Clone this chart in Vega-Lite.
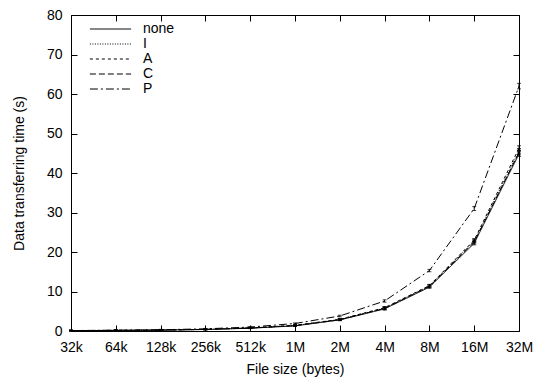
{
  "$schema": "https://vega.github.io/schema/vega-lite/v6.json",
  "width": 448,
  "height": 316,
  "autosize": {"type": "none"},
  "padding": {"left": 71, "top": 15, "right": 18, "bottom": 47},
  "background": "white",
  "config": {
    "view": {"stroke": "black", "strokeWidth": 1},
    "font": "Liberation Sans",
    "axis": {
      "domainColor": "black", "tickColor": "black", "labelColor": "black", "titleColor": "black",
      "labelFont": "Liberation Sans", "titleFont": "Liberation Sans",
      "labelFontSize": 14, "titleFontSize": 14, "titleFontWeight": "normal",
      "grid": false, "tickSize": -6, "labelPadding": 15
    }
  },
  "data": {"values": [
    {"size": "32k", "series": "none", "t": 0.1, "lo": 0.0, "hi": 0.2},
    {"size": "64k", "series": "none", "t": 0.15, "lo": 0.05, "hi": 0.25},
    {"size": "128k", "series": "none", "t": 0.22, "lo": 0.12, "hi": 0.32},
    {"size": "256k", "series": "none", "t": 0.38, "lo": 0.28, "hi": 0.48},
    {"size": "512k", "series": "none", "t": 0.7, "lo": 0.6, "hi": 0.8},
    {"size": "1M", "series": "none", "t": 1.3, "lo": 1.15, "hi": 1.45},
    {"size": "2M", "series": "none", "t": 2.8, "lo": 2.6, "hi": 3.0},
    {"size": "4M", "series": "none", "t": 5.6, "lo": 5.3, "hi": 5.9},
    {"size": "8M", "series": "none", "t": 11.1, "lo": 10.8, "hi": 11.4},
    {"size": "16M", "series": "none", "t": 22.2, "lo": 21.8, "hi": 22.6},
    {"size": "32M", "series": "none", "t": 44.8, "lo": 44.2, "hi": 45.4},
    {"size": "32k", "series": "I", "t": 0.1, "lo": 0.0, "hi": 0.2},
    {"size": "64k", "series": "I", "t": 0.15, "lo": 0.05, "hi": 0.25},
    {"size": "128k", "series": "I", "t": 0.24, "lo": 0.14, "hi": 0.34},
    {"size": "256k", "series": "I", "t": 0.4, "lo": 0.3, "hi": 0.5},
    {"size": "512k", "series": "I", "t": 0.75, "lo": 0.65, "hi": 0.85},
    {"size": "1M", "series": "I", "t": 1.4, "lo": 1.25, "hi": 1.55},
    {"size": "2M", "series": "I", "t": 2.9, "lo": 2.7, "hi": 3.1},
    {"size": "4M", "series": "I", "t": 5.8, "lo": 5.5, "hi": 6.1},
    {"size": "8M", "series": "I", "t": 11.4, "lo": 11.1, "hi": 11.7},
    {"size": "16M", "series": "I", "t": 22.8, "lo": 22.4, "hi": 23.2},
    {"size": "32M", "series": "I", "t": 45.6, "lo": 45.0, "hi": 46.2},
    {"size": "32k", "series": "A", "t": 0.1, "lo": 0.0, "hi": 0.2},
    {"size": "64k", "series": "A", "t": 0.16, "lo": 0.06, "hi": 0.26},
    {"size": "128k", "series": "A", "t": 0.25, "lo": 0.15, "hi": 0.35},
    {"size": "256k", "series": "A", "t": 0.42, "lo": 0.32, "hi": 0.52},
    {"size": "512k", "series": "A", "t": 0.78, "lo": 0.68, "hi": 0.88},
    {"size": "1M", "series": "A", "t": 1.45, "lo": 1.3, "hi": 1.6},
    {"size": "2M", "series": "A", "t": 2.95, "lo": 2.75, "hi": 3.15},
    {"size": "4M", "series": "A", "t": 5.9, "lo": 5.6, "hi": 6.2},
    {"size": "8M", "series": "A", "t": 11.5, "lo": 11.2, "hi": 11.8},
    {"size": "16M", "series": "A", "t": 23.0, "lo": 22.6, "hi": 23.4},
    {"size": "32M", "series": "A", "t": 46.3, "lo": 45.7, "hi": 46.9},
    {"size": "32k", "series": "C", "t": 0.1, "lo": 0.0, "hi": 0.2},
    {"size": "64k", "series": "C", "t": 0.15, "lo": 0.05, "hi": 0.25},
    {"size": "128k", "series": "C", "t": 0.23, "lo": 0.13, "hi": 0.33},
    {"size": "256k", "series": "C", "t": 0.4, "lo": 0.3, "hi": 0.5},
    {"size": "512k", "series": "C", "t": 0.74, "lo": 0.64, "hi": 0.84},
    {"size": "1M", "series": "C", "t": 1.35, "lo": 1.2, "hi": 1.5},
    {"size": "2M", "series": "C", "t": 2.85, "lo": 2.65, "hi": 3.05},
    {"size": "4M", "series": "C", "t": 5.7, "lo": 5.4, "hi": 6.0},
    {"size": "8M", "series": "C", "t": 11.3, "lo": 11.0, "hi": 11.6},
    {"size": "16M", "series": "C", "t": 22.5, "lo": 22.1, "hi": 22.9},
    {"size": "32M", "series": "C", "t": 45.2, "lo": 44.6, "hi": 45.8},
    {"size": "32k", "series": "P", "t": 0.12, "lo": 0.02, "hi": 0.22},
    {"size": "64k", "series": "P", "t": 0.2, "lo": 0.1, "hi": 0.3},
    {"size": "128k", "series": "P", "t": 0.32, "lo": 0.22, "hi": 0.42},
    {"size": "256k", "series": "P", "t": 0.55, "lo": 0.45, "hi": 0.65},
    {"size": "512k", "series": "P", "t": 1.0, "lo": 0.9, "hi": 1.1},
    {"size": "1M", "series": "P", "t": 1.9, "lo": 1.75, "hi": 2.05},
    {"size": "2M", "series": "P", "t": 3.8, "lo": 3.6, "hi": 4.0},
    {"size": "4M", "series": "P", "t": 7.6, "lo": 7.3, "hi": 7.9},
    {"size": "8M", "series": "P", "t": 15.3, "lo": 15.0, "hi": 15.6},
    {"size": "16M", "series": "P", "t": 31.0, "lo": 30.5, "hi": 31.5},
    {"size": "32M", "series": "P", "t": 62.0, "lo": 61.3, "hi": 62.7}
  ]},
  "resolve": {"axis": {"x": "independent", "y": "independent"}},
  "layer": [
    {
      "mark": {"type": "line", "color": "black", "strokeWidth": 1},
      "encoding": {
        "x": {"field": "size", "type": "ordinal",
          "scale": {"type": "point", "padding": 0, "domain": ["32k","64k","128k","256k","512k","1M","2M","4M","8M","16M","32M"]},
          "axis": {"title": "File size (bytes)", "labelAngle": 0, "labelPadding": 15, "titlePadding": 8}},
        "y": {"field": "t", "type": "quantitative", "scale": {"domain": [0, 80]},
          "axis": {"title": "Data transferring time (s)", "values": [0,10,20,30,40,50,60,70,80], "labelPadding": 15, "titlePadding": 20}},
        "strokeDash": {"field": "series", "type": "nominal",
          "scale": {"domain": ["none","I","A","C","P"], "range": [[1,0],[1,1.5],[3,3],[6,3],[8,3,2,3]]},
          "legend": {"title": null, "orient": "none", "legendX": 18, "legendY": 7,
            "symbolType": "stroke", "symbolSize": 1700, "symbolStrokeColor": "black", "symbolStrokeWidth": 1,
            "clipHeight": 14, "rowPadding": 1,
            "labelFontSize": 14, "labelFont": "Liberation Sans", "labelColor": "black", "labelOffset": 11}}
      }
    },
    {
      "mark": {"type": "errorbar", "ticks": {"size": 4}, "color": "black", "thickness": 1},
      "encoding": {
        "x": {"field": "size", "type": "ordinal", "scale": {"type": "point", "padding": 0}, "axis": null},
        "y": {"field": "lo", "type": "quantitative", "axis": null},
        "y2": {"field": "hi"}
      }
    },
    {
      "mark": {"type": "line", "opacity": 0},
      "encoding": {
        "x": {"field": "size", "type": "ordinal", "scale": {"type": "point", "padding": 0},
          "axis": {"orient": "top", "labels": false, "title": null, "domain": false}},
        "y": {"field": "t", "type": "quantitative",
          "axis": {"orient": "right", "labels": false, "title": null, "domain": false, "values": [0,10,20,30,40,50,60,70,80]}},
        "detail": {"field": "series"}
      }
    }
  ]
}
